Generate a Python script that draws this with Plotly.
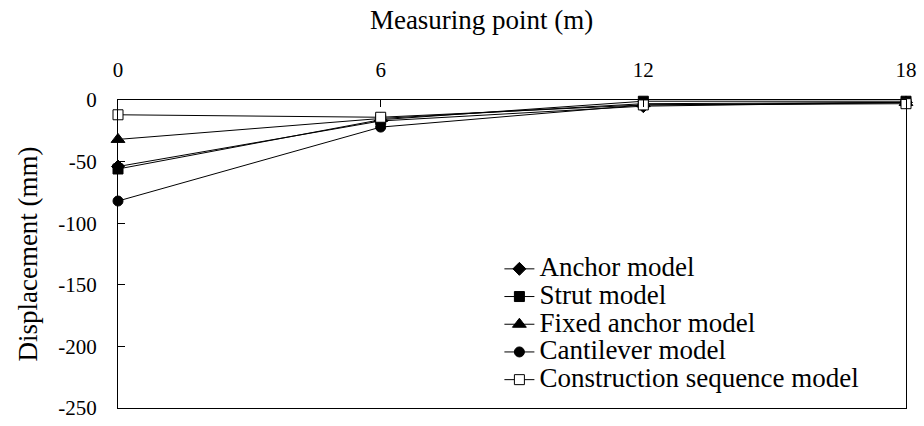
import plotly.graph_objects as go

points = [0, 6, 12, 18]
anchor = [-54, -17, -5, -2]
strut = [-56, -16, -1, -1]
fixed_anchor = [-32, -15, -3, -2]
cantilever = [-82, -22, -4, -2]
construction = [-12, -14, -4, -3]

y_ticks = [0, -50, -100, -150, -200, -250]
y_tick_text = ["0", "-50", "-100", "-150", "-200", "-250"]
x_ticks = [0, 6, 12, 18]

series = [
    ("Anchor model", anchor, "diamond", "black", 10),
    ("Strut model", strut, "square", "black", 10),
    ("Fixed anchor model", fixed_anchor, "triangle-up", "black", 12),
    ("Cantilever model", cantilever, "circle", "black", 10),
    ("Construction sequence model", construction, "square", "white", 10),
]

font = "Liberation Serif, Times New Roman, serif"
fig = go.Figure()
for name, vals, sym, fill, size in series:
    fig.add_trace(go.Scatter(
        x=points, y=vals, mode="lines+markers",
        name='<span style="font-size:27px">' + name + '</span>',
        line=dict(color="black", width=1),
        marker=dict(symbol=sym, size=size, color=fill, line=dict(color="black", width=1)),
        cliponaxis=False,
    ))

fig.update_layout(
    width=924, height=426,
    margin=dict(l=118, r=18, t=100, b=18, autoexpand=False),
    paper_bgcolor="white", plot_bgcolor="white",
    font=dict(family=font, color="black", size=21),
    showlegend=True,
    legend=dict(x=0.484, y=0.513, xanchor="left", yanchor="top",
                bgcolor="rgba(0,0,0,0)", font=dict(size=19, family=font),
                tracegroupgap=0, itemwidth=30),
    xaxis=dict(side="top", range=[0, 18], tickvals=x_ticks,
               ticks="inside", ticklen=7, tickcolor="black", automargin=False,
               showline=True, linecolor="black", linewidth=1, mirror=True,
               showgrid=False, zeroline=False, ticklabelstandoff=14,
               tickfont=dict(size=21, family=font),
               title=dict(text="Measuring point (m)" + "&nbsp;" * 9,
                          font=dict(size=27, family=font), standoff=20)),
    yaxis=dict(range=[-250, 0], tickvals=y_ticks, ticktext=y_tick_text,
               ticks="inside", ticklen=7, tickcolor="black", automargin=False,
               showline=True, linecolor="black", linewidth=1, mirror=True,
               showgrid=False, zeroline=False, ticklabelstandoff=16,
               tickfont=dict(size=21, family=font),
               title=dict(text="Displacement (mm)", font=dict(size=27, family=font), standoff=12)),
)

fig.write_html("out.html", config={"displayModeBar": False},
               post_script="document.body.style.margin='0';")
